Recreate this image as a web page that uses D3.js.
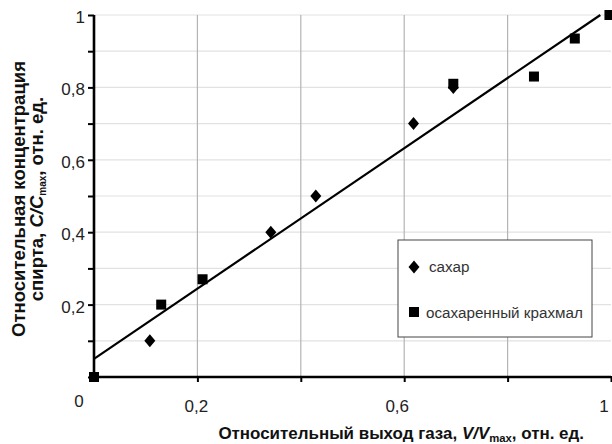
<!DOCTYPE html>
<html>
<head>
<meta charset="utf-8">
<script src="https://cdn.jsdelivr.net/npm/d3@7"></script>
<style>
  body { margin: 0; background: #fff; }
  svg { display: block; font-family: "Liberation Sans", Arial, sans-serif; }
</style>
</head>
<body>
<svg id="chart" width="612" height="444"></svg>
<script>
// Sugar (diamonds)
const sugarX = [0.108, 0.342, 0.429, 0.618, 0.695];
const sugarY = [0.10, 0.40, 0.50, 0.70, 0.80];

// Saccharified starch (squares)
const starchX = [0, 0.13, 0.21, 0.695, 0.851, 0.930, 0.997];
const starchY = [0, 0.20, 0.27, 0.81, 0.83, 0.935, 1.0];

// Trend line y = a*x + b
const trendSlope = 0.97;
const trendIntercept = 0.05;

const yTickLabels = ["0,2", "0,4", "0,6", "0,8", "1"];
const yLabelValues = [0.2, 0.4, 0.6, 0.8, 1];
const xTickLabels = ["0", "0,2", "0,6", "1"];
const xLabelValues = [0, 0.2, 0.6, 1];

const svg = d3.select("#chart");
const m = { left: 94, right: 611, top: 15, bottom: 377 };

const x = d3.scaleLinear().domain([0, 1]).range([m.left, m.right]);
const y = d3.scaleLinear().domain([0, 1]).range([m.bottom, m.top]);

// scale a text's font so it spans the given width
function fitWidth(sel, width) {
  const node = sel.node();
  const fs = parseFloat(sel.attr("font-size"));
  const w = node.getComputedTextLength();
  const nfs = fs * width / w;
  sel.attr("font-size", nfs);
  sel.selectAll("tspan").each(function () {
    const t = d3.select(this);
    if (t.attr("font-size")) t.attr("font-size", parseFloat(t.attr("font-size")) * width / w);
  });
}

/*
 * Grid
 */
svg.append("g")
  .selectAll("line")
  .data(d3.range(1, 11).map(d => d / 10))
  .enter().append("line")
  .attr("x1", m.left).attr("x2", m.right)
  .attr("y1", d => y(d)).attr("y2", d => y(d))
  .attr("stroke", "#e2e2e2").attr("stroke-width", 1.2);

svg.append("g")
  .selectAll("line")
  .data([0.2, 0.4, 0.6, 0.8])
  .enter().append("line")
  .attr("x1", d => x(d)).attr("x2", d => x(d))
  .attr("y1", m.top).attr("y2", m.bottom)
  .attr("stroke", "#b4b4b4").attr("stroke-width", 1.2);

/*
 * Axes
 */
const yAxis = d3.axisLeft(y)
  .tickValues(d3.range(0, 11).map(d => d / 10))
  .tickSize(6)
  .tickFormat("");
const gy = svg.append("g").attr("transform", `translate(${m.left},0)`).call(yAxis);

const xAxis = d3.axisBottom(x)
  .tickValues([0, 0.2, 0.4, 0.6, 0.8, 1])
  .tickSize(5)
  .tickFormat("");
const gx = svg.append("g").attr("transform", `translate(0,${m.bottom})`).call(xAxis);

[gy, gx].forEach(g => {
  g.select(".domain").remove();
  g.selectAll(".tick line").attr("stroke", "#000").attr("stroke-width", 2);
});
gx.selectAll(".tick line").attr("y1", -1);

svg.append("line")
  .attr("x1", m.left).attr("x2", m.left)
  .attr("y1", m.top).attr("y2", m.bottom + 1)
  .attr("stroke", "#000").attr("stroke-width", 2.6);
svg.append("line")
  .attr("x1", m.left).attr("x2", m.right)
  .attr("y1", m.bottom).attr("y2", m.bottom)
  .attr("stroke", "#000").attr("stroke-width", 2.6);

// tick labels
svg.append("g")
  .selectAll("text")
  .data(yLabelValues)
  .enter().append("text")
  .attr("x", m.left - 9)
  .attr("y", d => y(d) + 8)
  .attr("text-anchor", "end")
  .attr("font-size", 17)
  .attr("fill", "#222")
  .text((d, i) => yTickLabels[i]);

svg.append("g")
  .selectAll("text")
  .data(xLabelValues)
  .enter().append("text")
  .attr("x", d => d === 0 ? x(d) - 15 : x(d) - (d === 0.2 ? 1 : 7))
  .attr("y", d => d === 0 ? 407 : 412)
  .attr("text-anchor", "middle")
  .attr("font-size", 17)
  .attr("fill", "#222")
  .text((d, i) => xTickLabels[i]);

/*
 * Trend line
 */
const xEnd = (1 - trendIntercept) / trendSlope;
svg.append("line")
  .attr("x1", x(0)).attr("y1", y(trendIntercept))
  .attr("x2", x(xEnd)).attr("y2", y(trendSlope * xEnd + trendIntercept))
  .attr("stroke", "#000").attr("stroke-width", 2.2);

/*
 * Points
 */
const diamond = "M0,-6.5L5.5,0L0,6.5L-5.5,0Z";

svg.append("g")
  .selectAll("path")
  .data(sugarX.map((v, i) => [v, sugarY[i]]))
  .enter().append("path")
  .attr("d", diamond)
  .attr("transform", d => `translate(${x(d[0])},${y(d[1])})`)
  .attr("fill", "#000");

svg.append("g")
  .selectAll("rect")
  .data(starchX.map((v, i) => [v, starchY[i]]))
  .enter().append("rect")
  .attr("x", d => x(d[0]) - 5)
  .attr("y", d => y(d[1]) - 5)
  .attr("width", 10).attr("height", 10)
  .attr("fill", "#000");

/*
 * Legend
 */
const lg = svg.append("g").attr("transform", "translate(398,240)");
lg.append("rect")
  .attr("width", 194).attr("height", 97)
  .attr("fill", "#fff").attr("stroke", "#444").attr("stroke-width", 1);
lg.append("path").attr("d", diamond).attr("transform", "translate(16,27)").attr("fill", "#000");
const lt1 = lg.append("text").attr("x", 31).attr("y", 32).attr("font-size", 15).attr("fill", "#333").text("сахар");
lg.append("rect").attr("x", 11).attr("y", 67).attr("width", 10).attr("height", 10).attr("fill", "#000");
const lt2 = lg.append("text").attr("x", 28).attr("y", 78).attr("font-size", 15).attr("fill", "#333").text("осахаренный крахмал");
fitWidth(lt2, 157);
lt1.attr("font-size", lt2.attr("font-size"));

/*
 * Axis titles
 */
const xt = svg.append("text")
  .attr("x", 584).attr("y", 439)
  .attr("text-anchor", "end")
  .attr("font-size", 16.5).attr("font-weight", "bold").attr("fill", "#111");
xt.append("tspan").text("Относительный выход газа, ");
xt.append("tspan").attr("font-style", "italic").text("V/V");
xt.append("tspan").attr("font-size", 11).attr("dy", 3).text("max");
xt.append("tspan").attr("dy", -3).text(", отн. ед.");
fitWidth(xt, 366);

const yt = svg.append("g").attr("transform", "translate(0,199) rotate(-90)");
const yt1 = yt.append("text")
  .attr("x", 0).attr("y", 25)
  .attr("text-anchor", "middle")
  .attr("font-size", 14.2).attr("font-weight", "bold").attr("fill", "#111")
  .text("Относительная концентрация");
fitWidth(yt1, 276);
const yt2 = yt.append("text")
  .attr("x", 0).attr("y", 43)
  .attr("text-anchor", "middle")
  .attr("font-size", yt1.attr("font-size")).attr("font-weight", "bold").attr("fill", "#111");
yt2.append("tspan").text("спирта, ");
yt2.append("tspan").attr("font-style", "italic").text("C/C");
yt2.append("tspan").attr("font-size", 10).attr("dy", 3).text("max");
yt2.append("tspan").attr("dy", -3).text(", отн. ед.");
</script>
</body>
</html>
